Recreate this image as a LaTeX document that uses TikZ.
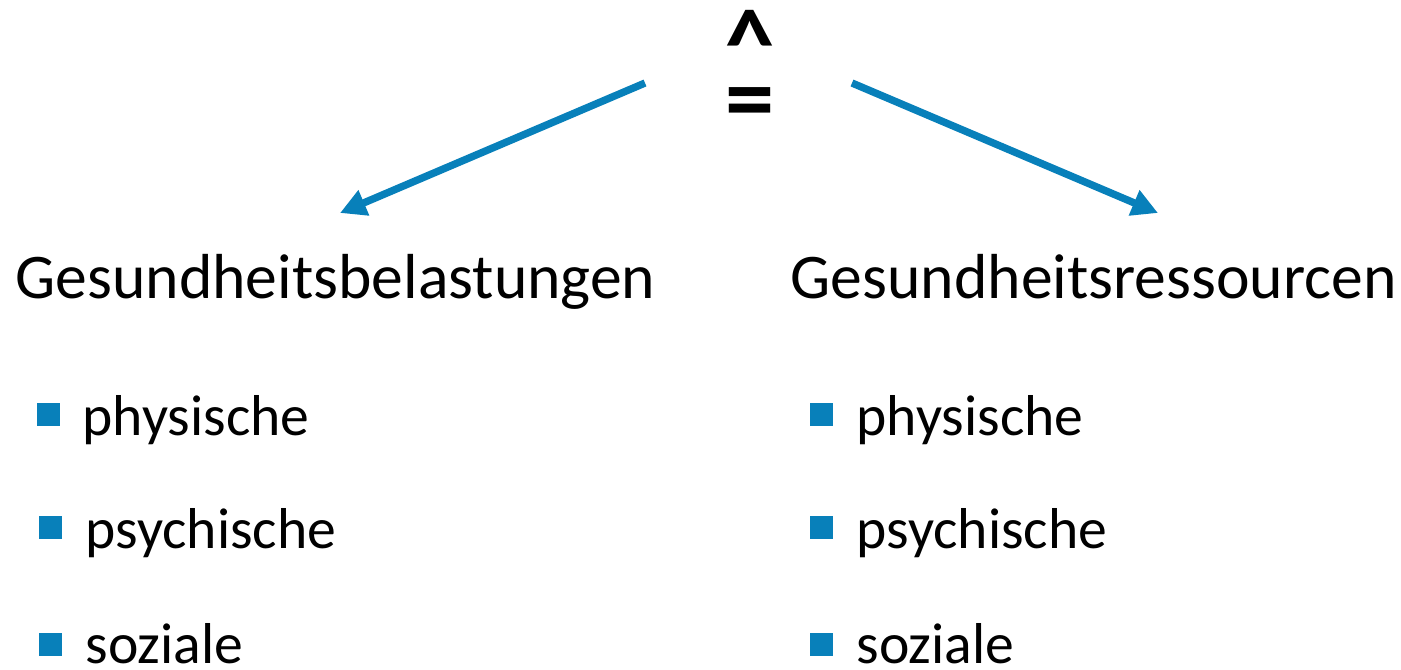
\documentclass[tikz,border=0pt]{standalone}
\usepackage{fontspec}
\setmainfont{Carlito}
\usetikzlibrary{arrows.meta}
\definecolor{itemblue}{RGB}{8,128,186}
\tikzset{
  headtext/.style={anchor=base west,inner sep=0pt,
    font=\fontsize{18.1}{22}\selectfont},
  itemtext/.style={anchor=base west,inner sep=0pt,
    font=\fontsize{16.4}{20}\selectfont},
  itembullet/.style={rectangle,fill=itemblue,minimum size=0.23cm,inner sep=0pt},
  symtext/.style={anchor=north,inner sep=0pt,font=\fontsize{28}{32}\selectfont\bfseries},
  arrow/.style={-{Triangle[length=0.26cm,width=0.26cm]},line width=2.1pt,draw=itemblue},
}

\begin{document}
\begin{tikzpicture}
  \useasboundingbox (0,0) rectangle (14.01,-6.69);
  % symbol on top
  \node[symtext] (caret)  at (7.50,-0.10) {\textasciicircum};
  \node[symtext] (equals) at (7.50,-0.87) {=};
  % headings
  \node[headtext] (load) at (0.15,-2.98) {Gesundheitsbelastungen};
  \node[headtext] (res)  at (7.90,-2.98) {Gesundheitsressourcen};
  % left list
  \node[itembullet] (lb1) at (0.485,-4.14) {};
  \node[itembullet] (lb2) at (0.505,-5.27) {};
  \node[itembullet] (lb3) at (0.505,-6.44) {};
  \node[itemtext] (lt1) at (0.82,-4.35) {physische};
  \node[itemtext] (lt2) at (0.85,-5.48) {psychische};
  \node[itemtext] (lt3) at (0.85,-6.63) {soziale};
  % right list
  \node[itembullet] (rb1) at (8.215,-4.14) {};
  \node[itembullet] (rb2) at (8.215,-5.27) {};
  \node[itembullet] (rb3) at (8.215,-6.44) {};
  \node[itemtext] (rt1) at (8.56,-4.35) {physische};
  \node[itemtext] (rt2) at (8.56,-5.48) {psychische};
  \node[itemtext] (rt3) at (8.56,-6.63) {soziale};
  % arrows
  \coordinate (lfrom) at (6.45,-0.83);
  \coordinate (lto)   at (3.40,-2.13);
  \coordinate (rfrom) at (8.52,-0.83);
  \coordinate (rto)   at (11.58,-2.13);
  \draw[arrow] (lfrom) -- (lto);
  \draw[arrow] (rfrom) -- (rto);
\end{tikzpicture}
\end{document}
